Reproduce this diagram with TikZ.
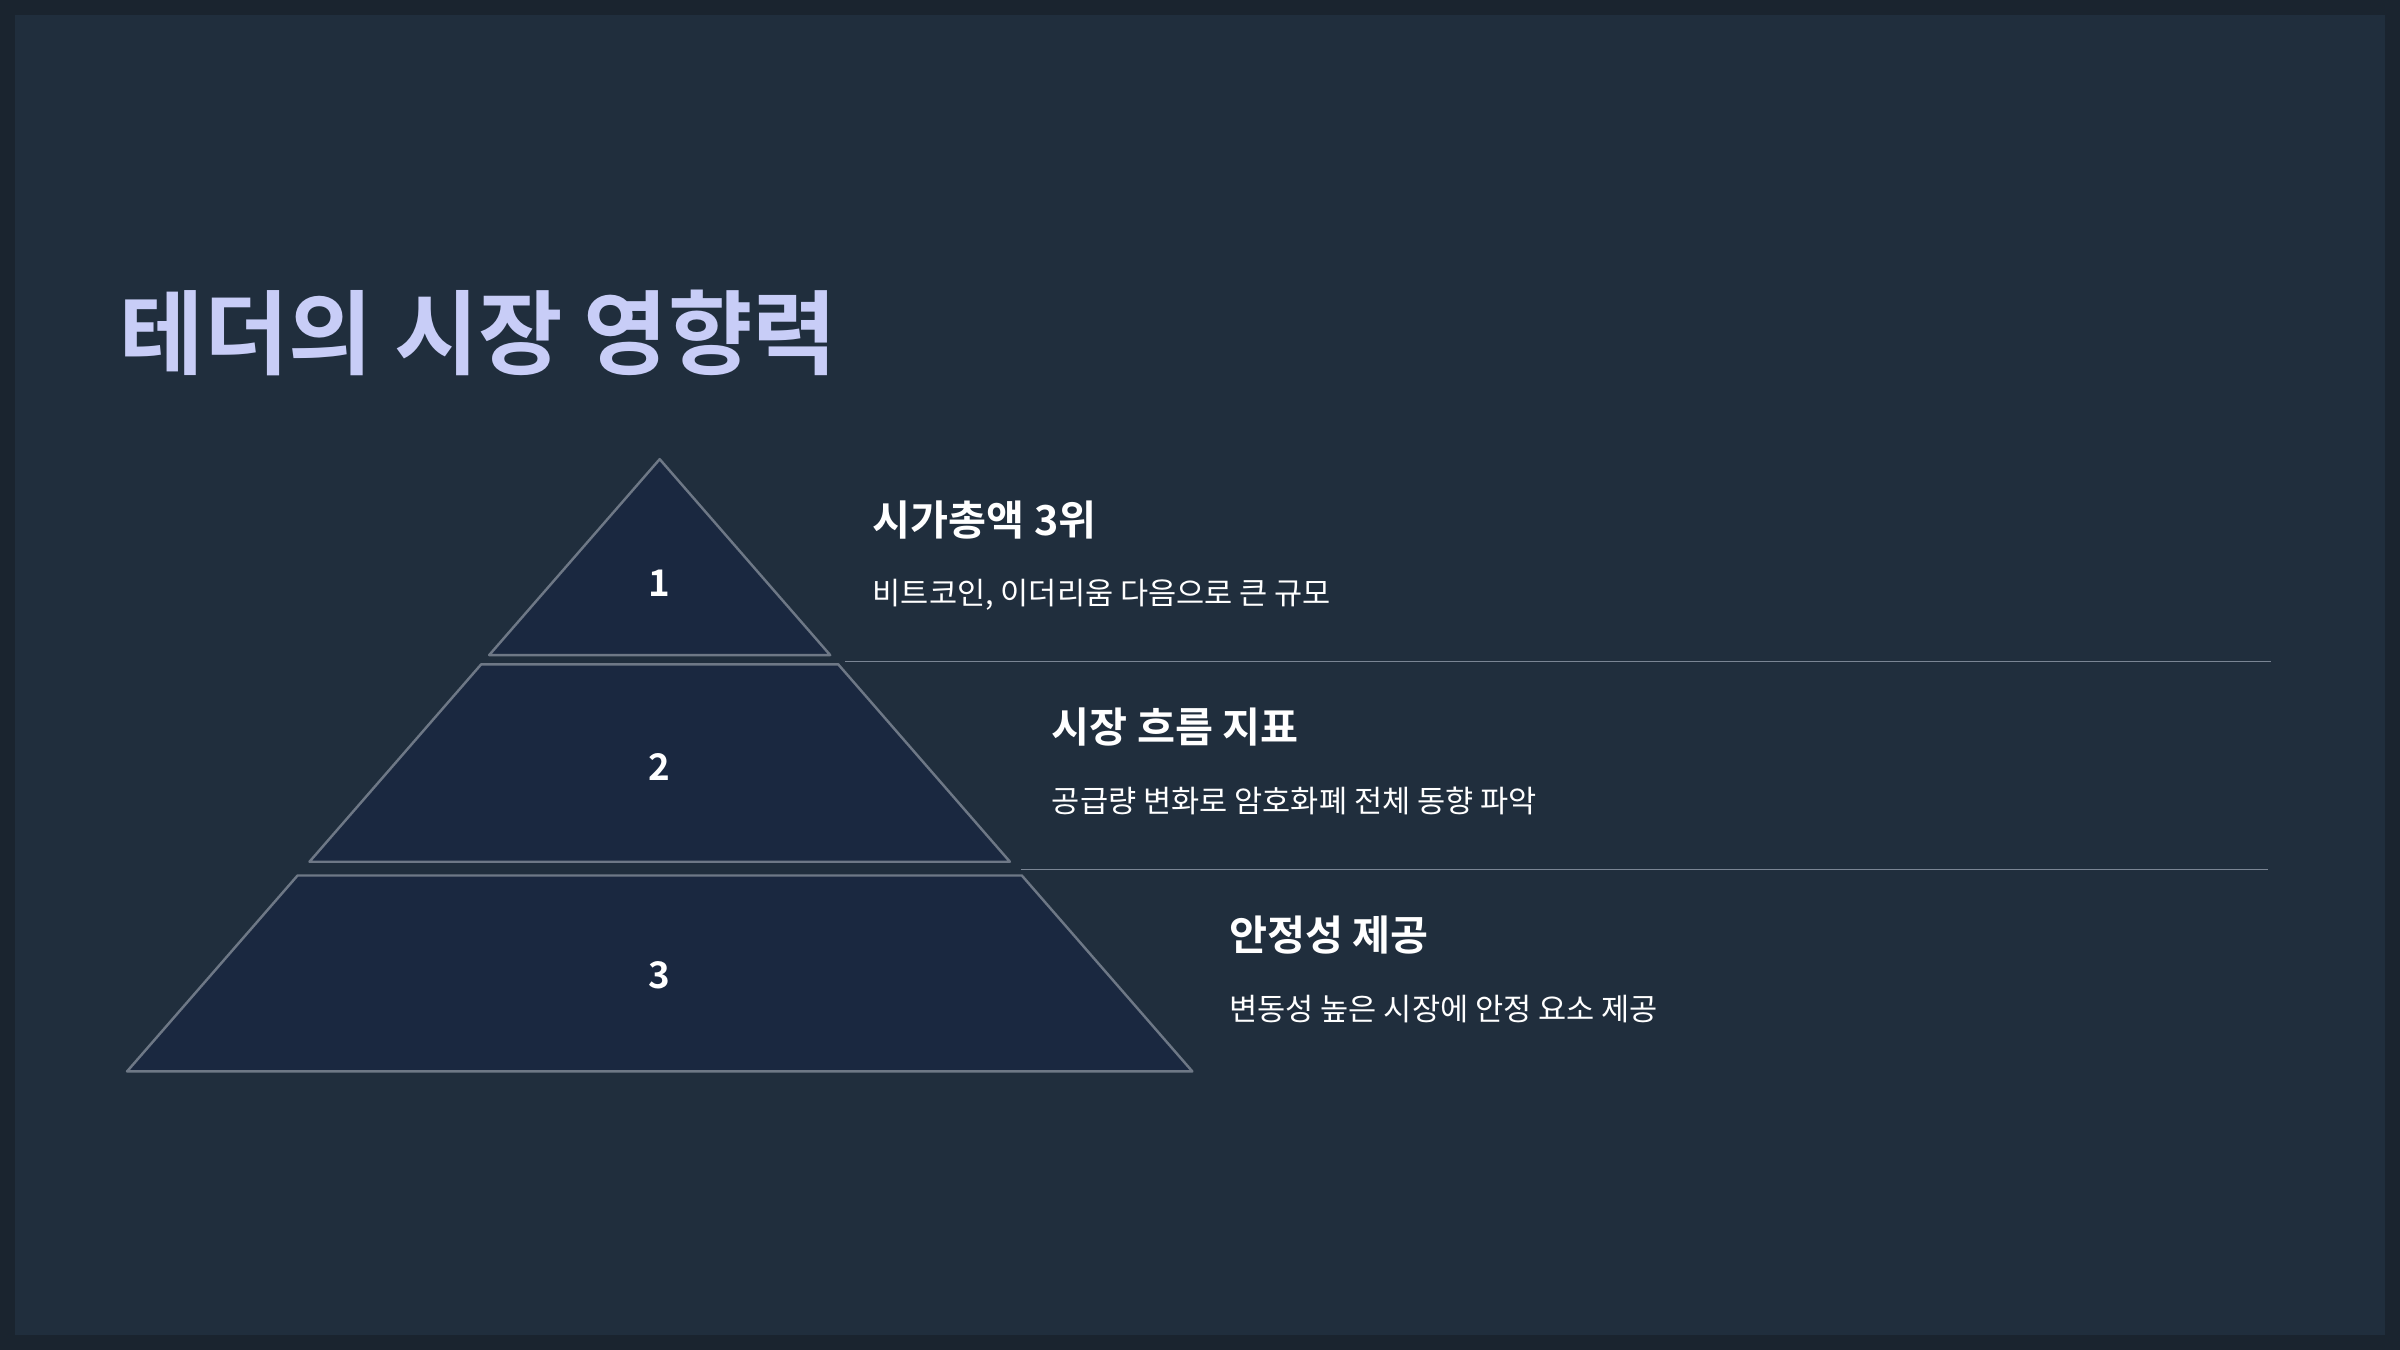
\documentclass[tikz,border=0pt]{standalone}
\usepackage{fontspec}
\newfontfamily\kr{Noto Sans CJK KR}
\newfontfamily\krb{Noto Sans CJK KR Bold}
\definecolor{outer}{HTML}{1A242F}
\definecolor{inner}{HTML}{202E3D}
\definecolor{tier}{HTML}{1A2840}
\definecolor{edge}{HTML}{6E7886}
\definecolor{ttl}{HTML}{C8CDF7}
\definecolor{rule}{HTML}{7A8594}
\tikzset{
 tierbox/.style={fill=tier,draw=edge,line width=1.6pt,line join=round},
 num/.style={text=white,font=\krb\fontsize{24}{28}\selectfont,anchor=center},
 head/.style={text=white,font=\krb\fontsize{27}{32}\selectfont,anchor=base west,inner sep=0},
 sub/.style={text=white,font=\kr\fontsize{20}{24}\selectfont,anchor=base west,inner sep=0},
 sep/.style={draw=rule,line width=0.9pt}
}
\begin{document}
\begin{tikzpicture}[x=1pt,y=-1pt]
\fill[outer] (0,0) rectangle (1568,882);
\fill[inner] (10,10) rectangle (1558,872);
\useasboundingbox (0,0) rectangle (1568,882);
\node[text=ttl,font=\krb\fontsize{60}{70}\selectfont,anchor=base west,inner sep=0] (title) at (78,240) {테더의 시장 영향력};
% tiers
\draw[tierbox] (431,300) -- (542.4,428) -- (319.6,428) -- cycle;
\draw[tierbox] (314.4,434) -- (547.6,434) -- (659.8,563) -- (202.2,563) -- cycle;
\draw[tierbox] (194.4,572) -- (667.6,572) -- (779,700) -- (83,700) -- cycle;
\node[num] (n1) at (431,381) {1};
\node[num] (n2) at (431,501) {2};
\node[num] (n3) at (431,637) {3};
\coordinate (a1) at (552,432); \coordinate (b1) at (1484,432);
\coordinate (a2) at (667,568); \coordinate (b2) at (1482,568);
\draw[sep] (a1) -- (b1);
\draw[sep] (a2) -- (b2);
\node[head] (h1) at (570,350) {시가총액 3위};
\node[sub] (s1) at (570,395) {비트코인, 이더리움 다음으로 큰 규모};
\node[head] (h2) at (687,485) {시장 흐름 지표};
\node[sub] (s2) at (687,531) {공급량 변화로 암호화폐 전체 동향 파악};
\node[head] (h3) at (803,621) {안정성 제공};
\node[sub] (s3) at (803,667) {변동성 높은 시장에 안정 요소 제공};
\end{tikzpicture}
\end{document}
